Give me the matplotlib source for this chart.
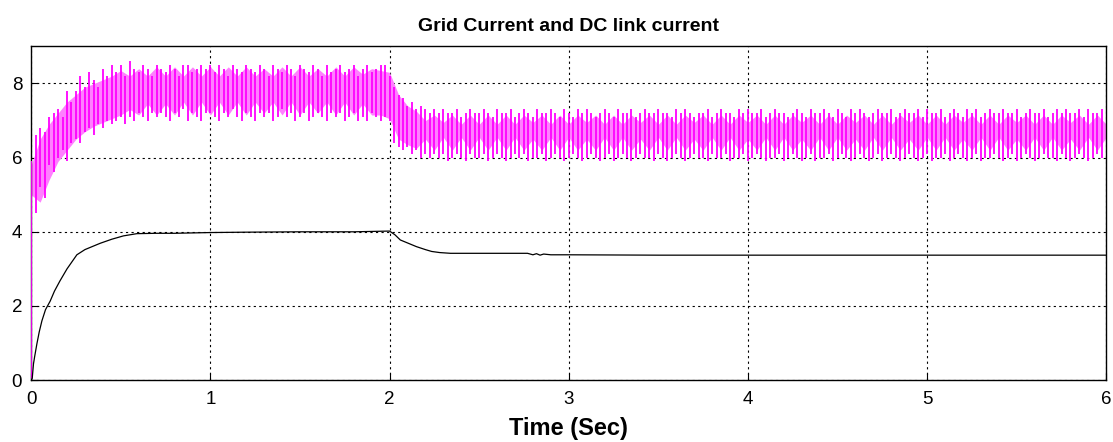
#Importing Modules
import numpy as np
import matplotlib.pyplot as plt

plt.rcParams['font.family'] = ['Liberation Sans', 'DejaVu Sans']

#Grid current spikes (one every 0.025 s) - upper and lower peaks
spike_hi = [
    5.9, 6.6, 6.8, 6.7, 7.1, 7.2, 7.3, 7.1, 7.8, 7.5,
    7.8, 8.2, 7.9, 8.3, 8.1, 7.9, 8.4, 8.2, 8.5, 8.3,
    8.5, 8.2, 8.6, 8.4, 8.3, 8.5, 8.4, 8.2, 8.5, 8.4,
    8.3, 8.5, 8.4, 8.2, 8.5, 8.5, 8.3, 8.4, 8.5, 8.4,
    8.5, 8.3, 8.5, 8.4, 8.2, 8.5, 8.4, 8.3, 8.5, 8.4,
    8.3, 8.5, 8.4, 8.2, 8.5, 8.4, 8.3, 8.5, 8.4, 8.2,
    8.5, 8.4, 8.3, 8.5, 8.4, 8.2, 8.5, 8.3, 8.4, 8.5,
    8.3, 8.4, 8.5, 8.2, 8.4, 8.5, 8.3, 8.4, 8.5, 8.5,
    8.2, 7.9, 7.7, 7.6, 7.4, 7.5, 7.3, 7.4, 7.3, 7.2,
    7.3, 7.2, 7.3, 7.2, 7.2, 7.3, 7.1, 7.2, 7.3, 7.2,
    7.2, 7.3, 7.2, 7.1, 7.3, 7.2, 7.2, 7.3, 7.1, 7.2,
    7.3, 7.2, 7.1, 7.3, 7.2, 7.2, 7.3, 7.2, 7.1, 7.3,
    7.2, 7.1, 7.3, 7.2, 7.3, 7.2, 7.1, 7.2, 7.3, 7.2,
    7.1, 7.3, 7.2, 7.2, 7.3, 7.1, 7.2, 7.3, 7.2, 7.2,
    7.3, 7.2, 7.2, 7.1, 7.3, 7.2, 7.3, 7.2, 7.1, 7.2,
    7.2, 7.3, 7.1, 7.2, 7.3, 7.2, 7.2, 7.1, 7.3, 7.2,
    7.3, 7.2, 7.2, 7.3, 7.1, 7.2, 7.3, 7.2, 7.2, 7.1,
    7.2, 7.3, 7.2, 7.1, 7.3, 7.2, 7.2, 7.3, 7.2, 7.1,
    7.3, 7.2, 7.1, 7.3, 7.2, 7.3, 7.2, 7.1, 7.2, 7.3,
    7.2, 7.2, 7.3, 7.1, 7.2, 7.3, 7.2, 7.2, 7.3, 7.1,
    7.3, 7.2, 7.2, 7.3, 7.1, 7.2, 7.3, 7.2, 7.1, 7.3,
    7.2, 7.3, 7.1, 7.2, 7.3, 7.2, 7.2, 7.3, 7.2, 7.2,
    7.3, 7.1, 7.2, 7.3, 7.2, 7.2, 7.3, 7.1, 7.2, 7.3,
    7.2, 7.3, 7.2, 7.2, 7.3, 7.1, 7.3, 7.2, 7.2, 7.3,
]
spike_lo = [
    0.0, 4.5, 5.2, 4.9, 5.8, 5.6, 6.0, 6.2, 5.9, 6.4,
    6.5, 6.4, 6.7, 6.8, 6.6, 6.9, 6.8, 7.0, 6.9, 7.0,
    7.1, 6.9, 7.1, 7.0, 7.2, 7.1, 7.0, 7.2, 7.1, 7.2,
    7.1, 7.0, 7.2, 7.1, 7.3, 7.0, 7.2, 7.1, 7.0, 7.2,
    7.2, 7.1, 7.0, 7.2, 7.1, 7.3, 7.1, 7.0, 7.2, 7.1,
    7.0, 7.2, 7.1, 7.2, 7.0, 7.1, 7.3, 7.1, 7.2, 7.0,
    7.1, 7.2, 7.0, 7.1, 7.2, 7.1, 7.0, 7.2, 7.1, 7.2,
    7.0, 7.1, 7.2, 7.0, 7.1, 7.0, 7.2, 7.1, 7.0, 7.1,
    7.0, 6.4, 6.3, 6.2, 6.3, 6.1, 6.2, 6.0, 6.1, 6.0,
    6.1, 6.0, 6.1, 5.9, 6.0, 6.1, 6.0, 5.9, 6.1, 6.0,
    6.0, 6.1, 5.9, 6.0, 6.1, 6.0, 5.9, 6.0, 6.1, 6.0,
    6.1, 5.9, 6.0, 6.0, 6.1, 5.9, 6.0, 6.1, 6.0, 5.9,
    6.0, 6.1, 6.0, 5.9, 6.0, 6.1, 6.0, 5.9, 6.0, 6.1,
    5.9, 6.0, 6.1, 6.0, 5.9, 6.0, 6.1, 6.0, 6.0, 5.9,
    6.1, 6.0, 5.9, 6.0, 6.1, 6.0, 5.9, 6.0, 6.1, 6.0,
    6.0, 5.9, 6.1, 6.0, 6.0, 6.1, 5.9, 6.0, 6.0, 6.1,
    5.9, 6.0, 6.1, 6.0, 5.9, 6.0, 6.0, 6.1, 5.9, 6.0,
    6.1, 6.0, 5.9, 6.0, 6.1, 5.9, 6.0, 6.0, 6.1, 5.9,
    6.0, 6.1, 6.0, 5.9, 6.0, 6.1, 6.0, 5.9, 6.0, 6.1,
    5.9, 6.0, 6.1, 6.0, 5.9, 6.0, 6.1, 6.0, 5.9, 6.0,
    6.1, 5.9, 6.0, 6.0, 6.1, 5.9, 6.0, 6.1, 6.0, 5.9,
    6.0, 6.1, 5.9, 6.0, 6.0, 6.1, 6.0, 5.9, 6.0, 6.1,
    5.9, 6.0, 6.1, 6.0, 5.9, 6.0, 6.1, 6.0, 6.0, 5.9,
    6.1, 6.0, 5.9, 6.0, 6.1, 6.0, 5.9, 6.0, 6.1, 6.0,
]
spike_step = 0.025

#Grid current envelope (beat pattern, one value every 0.05 s)
env_hi = [
    5.8, 6.5, 6.9, 7.2, 7.5, 7.7, 7.9, 8.0, 8.1, 8.2,
    8.35, 8.2, 8.4, 8.2, 8.45, 8.2, 8.45, 8.2, 8.45, 8.2,
    8.45, 8.2, 8.45, 8.2, 8.45, 8.2, 8.4, 8.2, 8.45, 8.2,
    8.45, 8.2, 8.4, 8.2, 8.45, 8.2, 8.45, 8.25, 8.4, 8.35,
    8.3, 7.7, 7.4, 7.25, 7.0, 7.15, 6.95, 7.15, 6.9, 7.15,
    6.9, 7.15, 6.9, 7.15, 6.9, 7.15, 6.95, 7.15, 6.9, 7.15,
    6.9, 7.15, 6.95, 7.15, 6.9, 7.15, 6.9, 7.15, 6.95, 7.15,
    6.9, 7.15, 6.9, 7.15, 6.95, 7.15, 6.9, 7.15, 6.9, 7.15,
    6.95, 7.15, 6.9, 7.15, 6.9, 7.15, 6.95, 7.15, 6.9, 7.15,
    6.9, 7.15, 6.95, 7.15, 6.9, 7.15, 6.9, 7.15, 6.95, 7.15,
    6.9, 7.15, 6.9, 7.15, 6.95, 7.15, 6.9, 7.15, 6.9, 7.15,
    6.95, 7.15, 6.9, 7.15, 6.9, 7.15, 6.95, 7.15, 6.9, 7.15,
    6.9,
]
env_lo = [
    5.0, 4.8, 5.4, 5.9, 6.2, 6.5, 6.7, 6.85, 6.95, 7.05,
    7.15, 7.3, 7.15, 7.45, 7.15, 7.45, 7.15, 7.5, 7.15, 7.5,
    7.15, 7.5, 7.15, 7.5, 7.15, 7.5, 7.2, 7.5, 7.15, 7.5,
    7.15, 7.5, 7.2, 7.5, 7.15, 7.5, 7.15, 7.45, 7.15, 7.15,
    7.05, 6.5, 6.35, 6.25, 6.5, 6.2, 6.55, 6.2, 6.55, 6.2,
    6.55, 6.2, 6.55, 6.2, 6.55, 6.2, 6.5, 6.2, 6.55, 6.2,
    6.55, 6.2, 6.5, 6.2, 6.55, 6.2, 6.55, 6.2, 6.5, 6.2,
    6.55, 6.2, 6.55, 6.2, 6.5, 6.2, 6.55, 6.2, 6.55, 6.2,
    6.5, 6.2, 6.55, 6.2, 6.55, 6.2, 6.5, 6.2, 6.55, 6.2,
    6.55, 6.2, 6.5, 6.2, 6.55, 6.2, 6.55, 6.2, 6.5, 6.2,
    6.55, 6.2, 6.55, 6.2, 6.5, 6.2, 6.55, 6.2, 6.55, 6.2,
    6.5, 6.2, 6.55, 6.2, 6.55, 6.2, 6.5, 6.2, 6.55, 6.2,
    6.55,
]
env_step = 0.05

#DC link current
dc_t = [0, 0.006, 0.013, 0.02, 0.032, 0.045, 0.06, 0.08, 0.106, 0.13,
        0.16, 0.2, 0.255, 0.3, 0.385, 0.45, 0.515, 0.59, 0.7, 0.8,
        0.9, 1.0, 1.2, 1.5, 1.8, 2.0, 2.03, 2.06, 2.1, 2.15,
        2.2, 2.235, 2.28, 2.34, 2.5, 2.77, 2.8, 2.82, 2.84, 2.86,
        2.9, 3.0, 3.5, 4.0, 4.5, 5.0, 5.5, 6.0]
dc_i = [0, 0.05, 0.44, 0.65, 0.98, 1.3, 1.6, 1.9, 2.13, 2.4,
        2.67, 3.0, 3.38, 3.52, 3.69, 3.8, 3.89, 3.95, 3.96, 3.96,
        3.97, 3.98, 3.99, 4.0, 4.0, 4.02, 3.92, 3.78, 3.7, 3.6,
        3.52, 3.47, 3.44, 3.42, 3.42, 3.42, 3.38, 3.41, 3.37, 3.4,
        3.38, 3.38, 3.37, 3.37, 3.37, 3.37, 3.37, 3.37]

x_ticks = [0, 1, 2, 3, 4, 5, 6]
y_ticks = [0, 2, 4, 6, 8]

spike_t = np.arange(len(spike_hi)) * spike_step
env_t = np.arange(len(env_hi)) * env_step

#Plot
fig = plt.figure(figsize=(11.13, 4.42), dpi=100)
ax = fig.add_axes([0.028, 0.140, 0.966, 0.755])

ax.fill_between(env_t, env_lo, env_hi, color='#ff80ff', linewidth=0, zorder=2)
ax.vlines(spike_t, spike_lo, spike_hi, color='#ff00ff', linewidth=1.3, zorder=3)
ax.plot(dc_t, dc_i, color='k', linewidth=0.9, zorder=4)

ax.set_xlim(0, 6)
ax.set_ylim(0, 9)
ax.set_xticks(x_ticks)
ax.set_yticks(y_ticks)
ax.grid(True, color='k', linestyle=(0, (2, 3)), linewidth=0.8)
ax.set_axisbelow(True)
ax.tick_params(direction='in', length=5, labelsize=13.5, color='k')
ax.tick_params(axis='x', pad=8)
ax.tick_params(axis='y', pad=6.5)
for s in ax.spines.values():
    s.set_linewidth(1.0)

ax.set_title("Grid Current and DC link current", fontsize=14, fontweight='bold', pad=11)
ax.set_xlabel("Time (Sec)", fontsize=17, fontweight='bold', labelpad=6)

plt.savefig('out.png', dpi=100)
